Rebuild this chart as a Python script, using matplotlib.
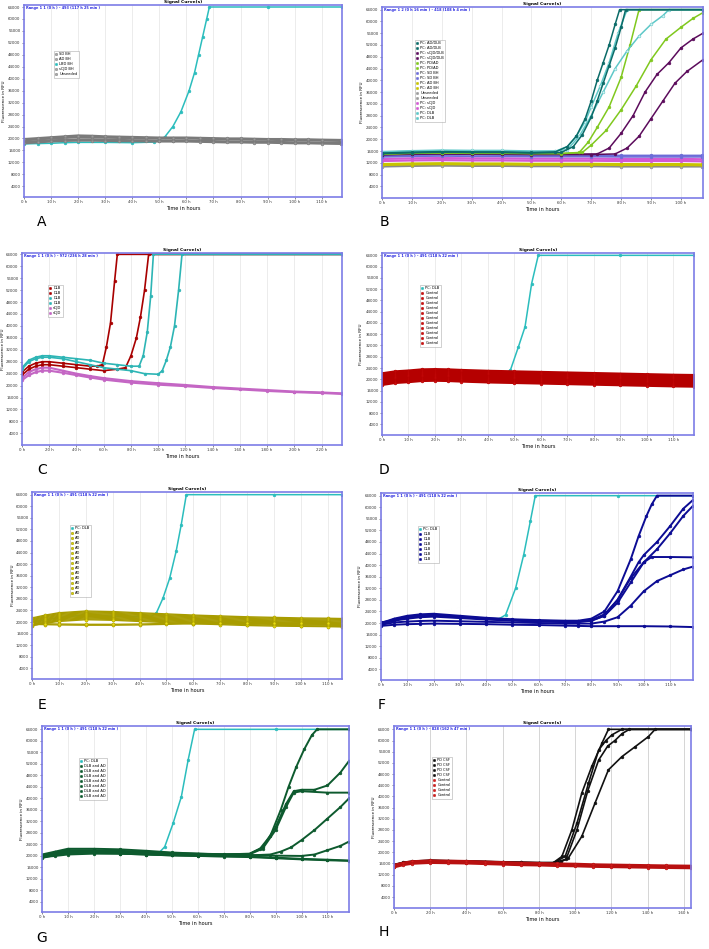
import matplotlib
matplotlib.use('Agg')
import matplotlib.pyplot as plt
from matplotlib.lines import Line2D

W, H = 709, 949

# ---------------- panel A ----------------
a_hours = [0, 5, 10, 15, 20, 25, 30, 35, 40, 45, 50, 55, 60, 65, 70, 75, 80, 85, 90, 95, 100, 105, 110, 117]
a_gray = [
    [19400, 19700, 20000, 20200, 20500, 20400, 20300, 20200, 20100, 20100, 20000, 20000, 20100, 19900, 19800, 19700, 19700, 19600, 19600, 19500, 19400, 19400, 19300, 19200],
    [18800, 19100, 19400, 19500, 19700, 19700, 19600, 19500, 19400, 19400, 19300, 19300, 19400, 19200, 19100, 19000, 19000, 18900, 18900, 18800, 18700, 18700, 18600, 18500],
    [19800, 20100, 20400, 20700, 21000, 20900, 20700, 20600, 20500, 20400, 20300, 20300, 20300, 20200, 20100, 20000, 20000, 19900, 19800, 19800, 19700, 19700, 19600, 19500],
    [18400, 18700, 19000, 19200, 19300, 19300, 19200, 19100, 19100, 19000, 19000, 19000, 19000, 18900, 18800, 18700, 18700, 18600, 18600, 18500, 18400, 18400, 18300, 18200],
]
a_lbd_hours = [0, 5, 10, 15, 20, 30, 40, 48, 52, 55, 58, 61, 63, 64.5, 66, 67.5, 68.5, 90, 117.5]
a_lbd_rfu = [18200, 18300, 18400, 18600, 18700, 18700, 18600, 18800, 20500, 24000, 29000, 36000, 42000, 48000, 54000, 60000, 64000, 64000, 64000]
a_labels = ['SD BH', 'AD BH', 'LBD BH', 'sCJD BH', 'Unseeded']

# ---------------- panel B ----------------
b_hours = [0, 10, 20, 30, 40, 50, 60, 70, 80, 90, 100, 107]
b_sd_bh = [[14400, 14600, 14700, 14700, 14600, 14600, 14600, 14600, 14500, 14500, 14500, 14500],
           [14000, 14200, 14300, 14200, 14200, 14100, 14100, 14100, 14000, 14000, 14000, 14000]]
b_ad_bh = [[11600, 11800, 11900, 11800, 11800, 11700, 11700, 11700, 11600, 11600, 11600, 11500],
           [11200, 11400, 11500, 11400, 11400, 11300, 11300, 11300, 11200, 11200, 11200, 11100]]
b_unseeded = [[11000, 11200, 11300, 11200, 11200, 11100, 11100, 11100, 11000, 11000, 11000, 11000],
              [10700, 10900, 11000, 10900, 10900, 10800, 10800, 10800, 10700, 10700, 10700, 10700]]
b_scjd = [[13300, 13500, 13600, 13500, 13500, 13400, 13400, 13400, 13300, 13300, 13300, 13200],
          [12600, 12800, 12900, 12800, 12800, 12700, 12700, 12700, 12600, 12600, 12600, 12500]]
b_ad_dlb_hours = [[0, 10, 20, 30, 40, 50, 58, 62, 65, 68, 70, 72, 74, 76, 78, 79.5, 107.4],
                  [0, 10, 20, 30, 40, 50, 60, 64, 67, 70, 72, 74, 76, 78, 80, 81.5, 107.4]]
b_ad_dlb_rfu = [[15300, 15600, 15800, 15700, 15700, 15500, 15700, 17500, 21000, 27000, 33000, 40000, 46000, 52000, 59000, 64000, 64000],
                [15100, 15400, 15600, 15500, 15500, 15300, 15500, 17500, 21500, 27500, 33000, 39000, 45000, 51000, 58000, 64000, 64000]]
b_dlb_hours = [[0, 10, 20, 30, 40, 50, 58, 62, 65, 68, 70, 73, 76, 79, 82, 107.4],
               [0, 10, 20, 30, 40, 50, 58, 62, 66, 70, 74, 78, 82, 86, 90, 94, 96, 107.4]]
b_dlb_rfu = [[15600, 15900, 16100, 16000, 16000, 15800, 15900, 17500, 21000, 26000, 31000, 38000, 46000, 56000, 64000, 64000],
             [15800, 16100, 16300, 16200, 16200, 16000, 16000, 16500, 21000, 28000, 36000, 44000, 50000, 55000, 59000, 62000, 64000, 64000]]
b_pdad_hours = [[0, 10, 20, 30, 40, 50, 60, 66, 69, 72, 76, 80, 83, 86, 107.4],
                [0, 10, 20, 30, 40, 50, 60, 67, 70, 75, 80, 85, 90, 95, 100, 104, 107.4]]
b_pdad_rfu = [[15000, 15300, 15400, 15300, 15300, 15200, 15200, 15500, 19000, 24000, 31000, 41000, 52000, 64000, 64000],
              [14900, 15200, 15300, 15200, 15200, 15100, 15100, 15500, 18000, 23000, 30000, 38000, 47000, 54000, 58000, 61000, 63000]]
b_scjd_dlb_hours = [[0, 10, 20, 30, 40, 50, 60, 72, 76, 80, 84, 88, 92, 96, 100, 104, 107.4],
                    [0, 10, 20, 30, 40, 50, 60, 70, 78, 82, 86, 90, 94, 98, 102, 107.4]]
b_scjd_dlb_rfu = [[14800, 15000, 15100, 15000, 15000, 14900, 14900, 15000, 17000, 22000, 28000, 36000, 42000, 46000, 51000, 54000, 56000],
                  [14700, 14900, 15000, 14900, 14900, 14800, 14800, 14800, 15000, 17000, 21000, 27000, 33000, 39000, 43000, 47000]]
b_labels = ['PC: AD/DLB', 'PC: AD/DLB', 'PC: sCJD/DLB', 'PC: sCJD/DLB', 'PC: PD/AD', 'PC: PD/AD',
            'PC: SD BH', 'PC: SD BH', 'PC: AD BH', 'PC: AD BH', 'Unseeded', 'Unseeded',
            'PC: sCJD', 'PC: sCJD', 'PC: DLB', 'PC: DLB']

# ---------------- panel C ----------------
c_red_hours = [[0, 5, 10, 15, 20, 30, 40, 50, 55, 59, 62, 65, 68, 70, 235],
               [0, 5, 10, 15, 20, 30, 40, 50, 60, 70, 76, 80, 84, 87, 90, 93, 235]]
c_red_rfu = [[24500, 26500, 27500, 28000, 28000, 27500, 27000, 26500, 26500, 27000, 33000, 41000, 55000, 64000, 64000],
             [23500, 25500, 26500, 27000, 27000, 26500, 26000, 25500, 25000, 25500, 26000, 30000, 36000, 43000, 52000, 64000, 64000]]
c_cyan_hours = [[0, 5, 10, 15, 20, 30, 40, 50, 60, 70, 80, 86, 89, 92, 94.5, 96.5, 235],
                [0, 5, 10, 15, 20, 30, 40, 50, 60, 70, 80, 90, 100, 103, 106, 109, 112, 115, 117.5, 235]]
c_cyan_rfu = [[26000, 28500, 29500, 30000, 30000, 29500, 29000, 28500, 27500, 27000, 26500, 26500, 30000, 38000, 50000, 64000, 64000],
              [25500, 28000, 29000, 29500, 29500, 29000, 28000, 27000, 26000, 25500, 25000, 24000, 23800, 25000, 28500, 33000, 40000, 52000, 64000, 64000]]
c_scjd_hours = [0, 5, 10, 15, 20, 30, 40, 50, 60, 80, 100, 120, 140, 160, 180, 200, 220, 235]
c_scjd_rfu = [[22500, 24500, 25500, 26000, 26000, 25000, 24000, 23200, 22500, 21500, 20800, 20200, 19500, 19000, 18500, 18000, 17700, 17400],
              [21800, 23500, 24500, 25000, 25000, 24300, 23500, 22700, 22000, 21000, 20300, 19800, 19200, 18700, 18200, 17800, 17500, 17200]]
c_labels = ['DLB', 'DLB', 'DLB', 'DLB', 'sCJD', 'sCJD']

# ---------------- panel D ----------------
d_pc_hours = [0, 10, 20, 30, 40, 46, 48.5, 51.5, 54, 56.5, 59, 90, 117.8]
d_pc_rfu = [20500, 21500, 22000, 21500, 21500, 21500, 23300, 31500, 38600, 54000, 64000, 64000, 64000]
d_hours = [0, 5, 10, 15, 20, 25, 30, 40, 50, 60, 70, 80, 90, 100, 110, 117.8]
d_control = [
    [22100, 22800, 23100, 23500, 23600, 23500, 23300, 23000, 22800, 22600, 22400, 22200, 22000, 21800, 21600, 21500],
    [21600, 22300, 22600, 23000, 23100, 23000, 22800, 22500, 22300, 22100, 21900, 21700, 21500, 21300, 21100, 21000],
    [21200, 21900, 22200, 22600, 22700, 22600, 22400, 22100, 21900, 21700, 21500, 21300, 21100, 20900, 20700, 20600],
    [20800, 21500, 21800, 22200, 22300, 22200, 22000, 21700, 21500, 21300, 21100, 20900, 20700, 20500, 20300, 20200],
    [20400, 21100, 21400, 21800, 21900, 21800, 21600, 21300, 21100, 20900, 20700, 20500, 20300, 20100, 19900, 19800],
    [20000, 20700, 21000, 21400, 21500, 21400, 21200, 20900, 20700, 20500, 20300, 20100, 19900, 19700, 19500, 19400],
    [19600, 20300, 20600, 21000, 21100, 21000, 20800, 20500, 20300, 20100, 19900, 19700, 19500, 19300, 19100, 19000],
    [19200, 19900, 20200, 20600, 20700, 20600, 20400, 20100, 19900, 19700, 19500, 19300, 19100, 18900, 18700, 18600],
    [18800, 19500, 19800, 20200, 20300, 20200, 20000, 19700, 19500, 19300, 19100, 18900, 18700, 18500, 18300, 18200],
    [18400, 19100, 19400, 19800, 19900, 19800, 19600, 19300, 19100, 18900, 18700, 18500, 18300, 18100, 17900, 17800],
    [18000, 18700, 19000, 19400, 19500, 19400, 19200, 18900, 18700, 18500, 18300, 18100, 17900, 17700, 17500, 17400],
]

# ---------------- panel E ----------------
e_pc_hours = [0, 10, 20, 30, 40, 44, 46.2, 48.7, 51.2, 53.6, 55.5, 57.4, 90, 115.3]
e_pc_rfu = [20000, 21500, 22500, 22000, 21800, 21800, 23000, 28200, 35100, 44400, 53600, 64000, 64000, 64000]
e_hours = [0, 5, 10, 20, 30, 40, 50, 60, 70, 80, 90, 100, 110, 115.3]
e_ad = [
    [21400, 22400, 23200, 23800, 23600, 23200, 22800, 22400, 22100, 21800, 21600, 21400, 21300, 21200],
    [21100, 22100, 22900, 23500, 23300, 22900, 22500, 22100, 21800, 21500, 21300, 21100, 21000, 20900],
    [20800, 21800, 22600, 23200, 23000, 22600, 22200, 21800, 21500, 21200, 21000, 20800, 20700, 20600],
    [20500, 21500, 22300, 22900, 22700, 22300, 21900, 21500, 21200, 20900, 20700, 20500, 20400, 20300],
    [20200, 21200, 22000, 22600, 22400, 22000, 21600, 21200, 20900, 20600, 20400, 20200, 20100, 20000],
    [19900, 20900, 21700, 22300, 22100, 21700, 21300, 20900, 20600, 20300, 20100, 19900, 19800, 19700],
    [19600, 20600, 21400, 22000, 21800, 21400, 21000, 20600, 20300, 20000, 19800, 19600, 19500, 19400],
    [19300, 20300, 21100, 21700, 21500, 21100, 20700, 20300, 20000, 19700, 19500, 19300, 19200, 19100],
    [19000, 20000, 20800, 21400, 21200, 20800, 20400, 20000, 19700, 19400, 19200, 19000, 18900, 18800],
    [18700, 19700, 20500, 21100, 20900, 20500, 20100, 19700, 19400, 19100, 18900, 18700, 18600, 18500],
    [18800, 19600, 20200, 20800, 20600, 20200, 19800, 19400, 19100, 18800, 18600, 18500, 18400, 18300],
    [19200, 19100, 19000, 18900, 18900, 19000, 19200, 19400, 19500, 19500, 19400, 19300, 19300, 19200],
    [19500, 19400, 19300, 19200, 19200, 19300, 19500, 19700, 19800, 19800, 19700, 19600, 19600, 19500],
]

# ---------------- panel F ----------------
f_pc_hours = [0, 10, 20, 30, 40, 45, 47.4, 51.2, 54.3, 56.8, 58.7, 90, 118.7]
f_pc_rfu = [20000, 22000, 22500, 21800, 21500, 21500, 22800, 32000, 43600, 55100, 64000, 64000, 64000]
f_dlb_hours = [
    [0, 5, 10, 15, 20, 30, 40, 50, 60, 70, 75, 80, 85, 90, 95, 98, 101, 103, 105, 118.7],
    [0, 5, 10, 15, 20, 30, 40, 50, 60, 70, 75, 80, 85, 90, 95, 98, 100, 105, 110, 115, 118.7],
    [0, 5, 10, 15, 20, 30, 40, 50, 60, 70, 75, 80, 85, 90, 95, 100, 105, 110, 115, 118.7],
    [0, 5, 10, 15, 20, 30, 40, 50, 60, 70, 75, 80, 85, 90, 95, 100, 103, 110, 118.7],
    [0, 5, 10, 15, 20, 30, 40, 50, 60, 70, 75, 80, 85, 90, 95, 100, 105, 110, 115, 118.7],
    [0, 5, 10, 15, 20, 30, 40, 50, 60, 70, 75, 80, 90, 100, 110, 118.7],
]
f_dlb_rfu = [
    [20000, 21500, 22500, 23000, 23200, 22500, 21800, 21300, 21000, 20800, 20800, 21500, 24000, 31000, 42000, 50000, 57000, 61000, 64000, 64000],
    [19800, 21300, 22200, 22700, 22800, 22200, 21600, 21100, 20800, 20600, 20600, 21000, 23000, 28000, 36000, 41000, 43500, 48000, 53500, 59500, 62500],
    [20200, 21000, 21800, 22300, 22500, 22000, 21400, 21000, 20700, 20500, 20500, 20800, 22500, 27000, 34000, 41000, 45500, 51000, 57000, 60500],
    [19600, 20800, 21500, 22000, 22200, 21700, 21200, 20800, 20500, 20300, 20300, 20800, 22500, 28000, 35500, 41000, 42800, 42800, 42700],
    [19400, 20200, 20500, 20700, 20800, 20600, 20400, 20200, 20000, 19800, 19800, 19800, 20500, 22000, 26000, 31000, 34500, 36500, 38500, 39500],
    [19000, 19400, 19600, 19700, 19800, 19700, 19600, 19400, 19300, 19100, 19000, 18900, 18900, 18900, 18800, 18600],
]

# ---------------- panel G ----------------
g_pc_hours = [0, 10, 20, 30, 40, 45, 47.3, 50.5, 53.7, 56.3, 58.8, 90, 118.3]
g_pc_rfu = [20000, 21500, 21500, 21500, 21000, 21000, 23200, 31300, 40600, 53300, 64000, 64000, 64000]
g_mix_hours = [
    [0, 5, 10, 20, 30, 40, 50, 60, 70, 80, 84, 88, 92, 95, 98, 101, 104, 106, 118.3],
    [0, 5, 10, 20, 30, 40, 50, 60, 70, 80, 85, 90, 94, 97, 100, 105, 110, 115, 118.3],
    [0, 5, 10, 20, 30, 40, 50, 60, 70, 80, 85, 90, 94, 97, 100, 110, 118.3],
    [0, 5, 10, 20, 30, 40, 50, 60, 70, 80, 88, 92, 96, 100, 105, 110, 115, 118.3],
    [0, 5, 10, 20, 30, 40, 50, 60, 70, 80, 90, 100, 105, 110, 115, 118.3],
    [0, 5, 10, 20, 30, 40, 50, 60, 70, 80, 90, 100, 110, 118.3],
    [0, 5, 10, 20, 30, 40, 50, 60, 70, 80, 90, 100, 110, 118.3],
]
g_mix_rfu = [
    [20000, 21000, 21800, 21800, 21600, 21200, 20800, 20600, 20500, 20800, 22500, 27000, 36000, 44000, 51000, 57000, 62000, 64000, 64000],
    [19800, 20800, 21500, 21500, 21400, 21000, 20700, 20500, 20400, 20700, 23000, 30000, 38000, 42500, 43000, 43000, 44500, 49000, 53000],
    [20200, 21200, 22000, 22000, 21800, 21400, 21000, 20800, 20600, 20600, 22500, 29000, 37000, 42000, 42500, 42000, 42000],
    [19500, 20500, 21200, 21200, 21000, 20700, 20400, 20300, 20200, 20200, 20500, 21500, 23000, 25500, 29000, 33000, 37000, 40000],
    [20500, 21500, 22500, 22500, 22300, 21800, 21200, 20800, 20500, 20300, 20100, 20000, 20500, 22000, 23500, 25000],
    [19300, 20300, 21000, 21000, 20800, 20500, 20200, 20000, 19900, 19800, 19400, 19000, 18700, 18400],
    [19600, 20000, 20500, 20800, 20800, 20500, 20200, 20000, 19800, 19600, 19200, 18800, 18500, 18300],
]

# ---------------- panel H ----------------
h_csf_hours = [
    [0, 5, 10, 20, 30, 40, 50, 60, 70, 80, 88, 92.7, 98.2, 103.7, 109.2, 114.8, 118.4, 164],
    [0, 5, 10, 20, 30, 40, 50, 60, 70, 80, 88, 94.5, 101, 107.4, 113, 117, 120.3, 125.8, 164],
    [0, 5, 10, 20, 30, 40, 50, 60, 70, 80, 88, 92, 96.3, 103.7, 111, 118.4, 125.8, 133.2, 140.5, 144.2, 164],
    [0, 5, 10, 20, 30, 40, 50, 60, 70, 80, 88, 95, 101, 107, 113, 118, 122, 126, 130, 164],
]
h_csf_rfu = [
    [15500, 16300, 16700, 17000, 16900, 16800, 16700, 16500, 16400, 16300, 16300, 18500, 28000, 41200, 50700, 59000, 64000, 64000],
    [15300, 16100, 16500, 16900, 16800, 16700, 16600, 16400, 16300, 16200, 16200, 18500, 30400, 44700, 56600, 60000, 62000, 64000, 64000],
    [15400, 16200, 16600, 17000, 16900, 16700, 16600, 16500, 16300, 16200, 16200, 16500, 18000, 25700, 37600, 49500, 54200, 57800, 61400, 64000, 64000],
    [15600, 16400, 16800, 17200, 17000, 16900, 16700, 16600, 16400, 16300, 16300, 17500, 28000, 42000, 53000, 58000, 60000, 62500, 64000, 64000],
]
h_ctrl_hours = [0, 5, 10, 20, 30, 40, 50, 60, 70, 80, 90, 100, 110, 120, 130, 140, 150, 164]
h_control = [
    [15200, 16000, 16500, 16800, 16700, 16600, 16400, 16200, 16000, 15900, 15700, 15600, 15400, 15300, 15200, 15100, 15000, 14900],
    [14900, 15700, 16200, 16500, 16400, 16300, 16100, 15900, 15700, 15600, 15400, 15300, 15100, 15000, 14900, 14800, 14700, 14600],
    [15500, 16300, 16800, 17100, 17000, 16900, 16700, 16500, 16300, 16200, 16000, 15900, 15700, 15600, 15500, 15400, 15300, 15200],
    [14600, 15400, 15900, 16200, 16100, 16000, 15800, 15600, 15400, 15300, 15100, 15000, 14800, 14700, 14600, 14500, 14400, 14300],
]

# colours
CYAN = '#2bbdbd'
FRAME = '#7d7de6'

fig = plt.figure(figsize=(W / 100, H / 100), dpi=100)


def make_axes(box, xmax, ylim, xstep, range_text, letter, letter_xy, ylabel_x):
    l, t, r, b = box
    ax = fig.add_axes([l / W, 1 - b / H, (r - l) / W, (b - t) / H])
    ax.set_xlim(0, xmax)
    ax.set_ylim(*ylim)
    ax.set_xticks(range(0, int(xmax) + 1, xstep))
    ax.set_xticklabels(['%d h' % v for v in range(0, int(xmax) + 1, xstep)])
    ax.set_yticks(range(4000, 64001, 4000))
    ax.tick_params(axis='both', labelsize=2.8, length=1.5, width=0.4, pad=1, colors='#333333')
    ax.grid(axis='x', color='#e4e4e4', lw=0.5)
    ax.set_axisbelow(True)
    for s in ax.spines.values():
        s.set_color(FRAME)
        s.set_linewidth(1.2)
    ax.set_xlabel('Time in hours', fontsize=3.6, labelpad=1)
    ax.set_ylabel('Fluorescence in RFU', fontsize=3.0, va='center')
    # place the y label at its pixel column, as in the reference
    ax.yaxis.set_label_coords((ylabel_x - l) / (r - l), 0.5)
    ax.set_title('Signal Curve(s)', fontsize=3.2, fontweight='bold', pad=1.5)
    ax.text(0.006, 0.993, range_text, transform=ax.transAxes, fontsize=2.5,
            color='#2828e0', fontweight='bold', ha='left', va='top')
    fig.text(letter_xy[0] / W, 1 - letter_xy[1] / H, letter, fontsize=10,
             ha='center', va='center')
    return ax


def curve(ax, hours, rfu, color, face=None, ms=2.0, lw=1.1):
    ax.plot(hours, rfu, '-', color=color, lw=lw, marker='o', ms=ms,
            mfc=face if face else color, mec=color, mew=0.4)


def legend(ax, entries, anchor):
    handles = [Line2D([], [], ls='none', marker='o', ms=1.8, mfc=f, mec=c, mew=0.3, label=lab)
               for lab, c, f in entries]
    lg = ax.legend(handles=handles, loc='upper left', bbox_to_anchor=anchor, fontsize=2.6,
                   labelspacing=0.28, handlelength=0.6, handletextpad=0.5, borderpad=0.35,
                   frameon=True, fancybox=False, borderaxespad=0)
    lg.get_frame().set_edgecolor('#999999')
    lg.get_frame().set_linewidth(0.4)


# ---- A ----
ax = make_axes((24, 5, 342, 197), 117.5, (420, 64670), 10,
               'Range 1 1 (0 h ) - 493 (117 h 25 min )', 'A', (42, 222), 3.5)
curve(ax, a_lbd_hours, a_lbd_rfu, CYAN)
for vals in a_gray:
    curve(ax, a_hours, vals, '#7a7a7a', face='#9a9a9a', lw=1.6)
legend(ax, [(a_labels[0], '#777777', '#aaaaaa'), (a_labels[1], '#777777', '#aaaaaa'),
            (a_labels[2], CYAN, CYAN), (a_labels[3], '#777777', '#aaaaaa'),
            (a_labels[4], '#777777', '#aaaaaa')], (0.094, 0.76))

# ---- B ----
ax = make_axes((382, 7, 703, 198), 107.4, (40, 64900), 10,
               'Range 1 2 (0 h 16 min ) - 418 (108 h 4 min )', 'B', (384, 222), 362)
b_cols = {'addlb': '#0b6b68', 'scjddlb': '#5c0c5c', 'pdad': '#80c81e', 'sd': '#6c6cd8',
          'ad': '#c8c400', 'un': '#9a9a9a', 'scjd': '#d35ad3', 'dlb': '#5ec8c8'}
for vals in b_unseeded:
    curve(ax, b_hours, vals, '#8a8a8a', face='#b0b0b0', lw=1.4)
for vals in b_ad_bh:
    curve(ax, b_hours, vals, b_cols['ad'], lw=1.4)
for vals in b_scjd:
    curve(ax, b_hours, vals, b_cols['scjd'], lw=1.6)
for vals in b_sd_bh:
    curve(ax, b_hours, vals, b_cols['sd'], lw=1.2)
for hrs, vals in zip(b_scjd_dlb_hours, b_scjd_dlb_rfu):
    curve(ax, hrs, vals, b_cols['scjddlb'])
for hrs, vals in zip(b_pdad_hours, b_pdad_rfu):
    curve(ax, hrs, vals, b_cols['pdad'])
for hrs, vals in zip(b_dlb_hours, b_dlb_rfu):
    curve(ax, hrs, vals, b_cols['dlb'], face='#d8f4f4')
for hrs, vals in zip(b_ad_dlb_hours, b_ad_dlb_rfu):
    curve(ax, hrs, vals, b_cols['addlb'])
b_leg_cols = ['addlb', 'addlb', 'scjddlb', 'scjddlb', 'pdad', 'pdad', 'sd', 'sd',
              'ad', 'ad', 'un', 'un', 'scjd', 'scjd', 'dlb', 'dlb']
legend(ax, [(lab, b_cols[k], b_cols[k]) for lab, k in zip(b_labels, b_leg_cols)], (0.103, 0.827))

# ---- C ----
ax = make_axes((22, 253, 342, 445), 235, (80, 64450), 20,
               'Range 1 1 (0 h ) - 972 (236 h 28 min )', 'C', (42, 470), 3)
for hrs, vals in zip(c_red_hours, c_red_rfu):
    curve(ax, hrs, vals, '#a80000', lw=1.2)
for hrs, vals in zip(c_cyan_hours, c_cyan_rfu):
    curve(ax, hrs, vals, '#2db5b5', lw=1.2)
for vals in c_scjd_rfu:
    curve(ax, c_scjd_hours, vals, '#c466c4', lw=1.5)
c_cols = ['#a80000', '#a80000', '#2db5b5', '#2db5b5', '#c466c4', '#c466c4']
legend(ax, [(lab, c, c) for lab, c in zip(c_labels, c_cols)], (0.081, 0.833))

# ---- D ----
ax = make_axes((382, 253, 694, 435), 117.8, (220, 64830), 10,
               'Range 1 1 (0 h ) - 491 (118 h 22 min )', 'D', (384, 470), 361)
curve(ax, d_pc_hours, d_pc_rfu, CYAN)
for vals in d_control:
    curve(ax, d_hours, vals, '#b50000', face='#cc1010', lw=1.6)
legend(ax, [('PC: DLB', CYAN, CYAN)] + [('Control', '#b50000', '#cc1010')] * len(d_control),
       (0.122, 0.824))

# ---- E ----
ax = make_axes((32, 492, 342, 679), 115.3, (310, 64920), 10,
               'Range 1 1 (0 h ) - 491 (118 h 22 min )', 'E', (42, 705), 13)
curve(ax, e_pc_hours, e_pc_rfu, CYAN)
for vals in e_ad:
    curve(ax, e_hours, vals, '#a89c00', face='#e8dc10', lw=1.0, ms=2.2)
legend(ax, [('PC: DLB', CYAN, CYAN)] + [('AD', '#8a8400', '#dcd000')] * len(e_ad),
       (0.123, 0.824))

# ---- F ----
ax = make_axes((381, 493, 693, 680), 118.7, (310, 64920), 10,
               'Range 1 1 (0 h ) - 491 (118 h 22 min )', 'F', (382, 705), 360)
curve(ax, f_pc_hours, f_pc_rfu, CYAN)
for hrs, vals in zip(f_dlb_hours, f_dlb_rfu):
    curve(ax, hrs, vals, '#0c0c94', lw=1.4)
legend(ax, [('PC: DLB', CYAN, CYAN)] + [('DLB', '#0c0c94', '#0c0c94')] * len(f_dlb_rfu),
       (0.119, 0.823))

# ---- G ----
ax = make_axes((42, 726, 349, 912), 118.3, (520, 65160), 10,
               'Range 1 1 (0 h ) - 491 (118 h 22 min )', 'G', (42, 938), 22)
curve(ax, g_pc_hours, g_pc_rfu, CYAN)
for hrs, vals in zip(g_mix_hours, g_mix_rfu):
    curve(ax, hrs, vals, '#0d5a2e', lw=1.4)
legend(ax, [('PC: DLB', CYAN, CYAN)] + [('DLB and AD', '#0d5a2e', '#0d5a2e')] * len(g_mix_rfu),
       (0.12, 0.828))

# ---- H ----
ax = make_axes((394, 726, 691, 908), 164, (70, 65190), 20,
               'Range 1 1 (0 h ) - 828 (162 h 47 min )', 'H', (384, 932), 374)
for hrs, vals in zip(h_csf_hours, h_csf_rfu):
    curve(ax, hrs, vals, '#111111', lw=1.2)
for vals in h_control:
    curve(ax, h_ctrl_hours, vals, '#b81010', face='#d02020', lw=1.5)
ax.grid(axis='x', color='#cfcfcf', lw=0.6)
legend(ax, [('PD CSF', '#111111', '#111111')] * len(h_csf_rfu) +
       [('Control', '#b81010', '#d02020')] * len(h_control), (0.128, 0.83))

fig.savefig('out.png', dpi=100)
